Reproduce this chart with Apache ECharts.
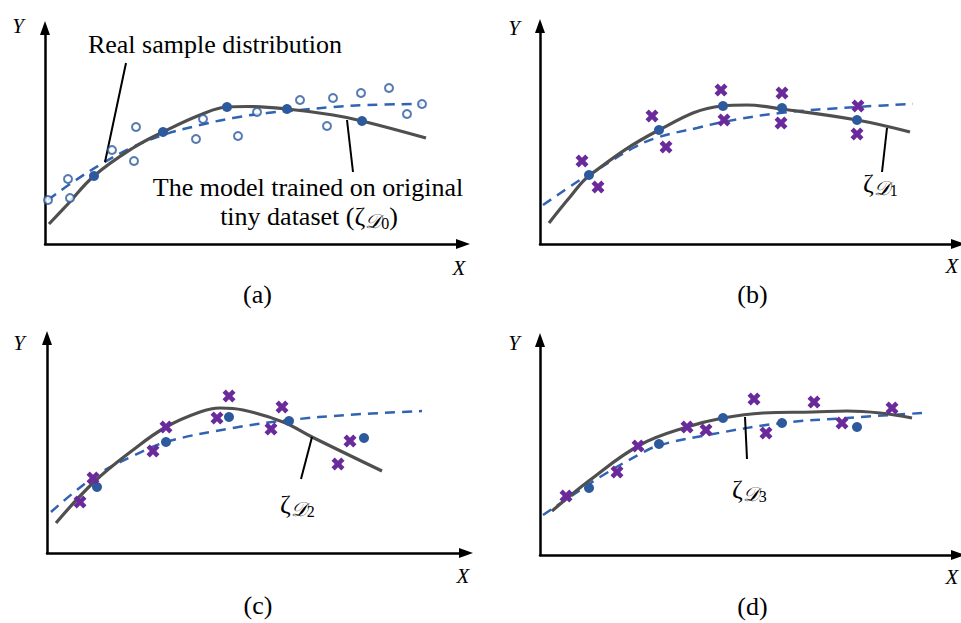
<!DOCTYPE html>
<html>
<head>
<meta charset="utf-8">
<script src="https://cdn.jsdelivr.net/npm/echarts@6/dist/echarts.min.js"></script>
<style>
html,body{margin:0;padding:0;background:#fff;}
#chart{width:961px;height:623px;}
</style>
</head>
<body>
<div id="chart"></div>
<script>
// ---------- data (x: right of origin, y: up from origin) ----------
const panelLabels = ['(a)', '(b)', '(c)', '(d)'];
const axisNameX = 'X';
const axisNameY = 'Y';

// real sample distribution (dashed)
const realA = [[3,44],[28,62],[58,81],[88,97],[118,109],[155,119],[188,126],[222,131],[255,134],[288,137],[322,139],[377,140]];
const realB = [[3,39],[40,64],[60,76],[93,96],[119,107],[157,116],[183,122],[240,131],[317,137],[373,140]];
const realC = [[4,41],[25,59],[53,80],[86,97],[119,111],[186,125],[243,133],[300,138],[375,142]];
const realD = [[3,40],[30,58],[60,78],[100,101],[120,110],[173,121],[242,132],[307,137],[382,142]];

// trained models (solid)
const modelA = [[4,20],[22,39],[49,68],[88,96],[118,112],[155,129],[182,137],[202,137.5],[242,135],[288,129],[317,123],[381,106]];
const modelB = [[9,21],[30,47],[50,69],[119,114],[182,138],[207,139],[242,135],[317,124],[370,112]];
const modelC = [[9,30],[47,71],[86,103],[119,126],[153,141],[173,145],[196,143],[236,131],[265,116],[335,82]];
const modelD = [[12,44],[50,75],[100,110],[147,128],[183,137],[223,142],[273,143],[307,144],[340,142],[372,137]];

// original tiny dataset (filled dots)
const dotsA = [[49,68],[118,112],[182,137],[242,135],[317,123]];
const dotsB = [[49,69],[119,114],[183,138],[242,136],[317,124]];
const dotsC = [[50,66],[119,111],[182,136],[242,132],[317,115]];
const dotsD = [[49,67],[119,111],[183,137],[242,132],[317,128]];

// real samples (hollow circles, panel a)
const hollowA = [[3,44],[23,65],[25,46],[67,94],[89,83],[91,117],[151,105],[158,125],[193,108],[212,132],[255,144],[282,118],[288,146],[316,151],[344,156],[362,130],[377,140]];

// augmented samples (crosses)
const crossB = [[42,83],[58,57],[112,128],[126,97],[181,154],[184,124],[242,151],[241,121],[318,138],[317,110]];
const crossC = [[33,51],[46,75],[106,102],[119,126],[170,135],[182,157],[224,124],[235,146],[291,89],[303,112]];
const crossD = [[26,59],[77,83],[98,109],[147,128],[166,125],[214,156],[226,122],[274,153],[302,132],[352,147]];

// leader lines
const leaderA1 = [[81,181],[60,82]];
const leaderA2 = [[302,124],[308,72]];
const leaderB = [[347,116],[342,72]];
const leaderC = [[265,116],[254,74]];
const leaderD = [[205,138],[207,96]];

// ---------- layout / styles ----------
const grids = [
  {left:45, top:28, width:418, height:216},
  {left:540, top:26, width:418, height:218},
  {left:47, top:338, width:419, height:215},
  {left:540, top:340, width:418, height:215}
];
const C_DASH = '#3063B2', C_DOT = '#2C5A9C', C_MODEL = '#4F4F4F', C_CROSS = '#6A2A9C';
const crossPath = 'path://M3,0 L6,3 L9,0 L12,3 L9,6 L12,9 L9,12 L6,9 L3,12 L0,9 L3,6 L0,3 Z';
const SERIF = "'Liberation Serif', 'Times New Roman', serif";

const xAxes = grids.map((g,i)=>({
  type:'value', gridIndex:i, min:0, max:g.width,
  axisLine:{show:true, lineStyle:{color:'#000', width:2.5}, symbol:['none','triangle'], symbolSize:[10,14]},
  axisTick:{show:false}, axisLabel:{show:false}, splitLine:{show:false}
}));
const yAxes = grids.map((g,i)=>({
  type:'value', gridIndex:i, min:0, max:g.height,
  axisLine:{show:true, lineStyle:{color:'#000', width:2.5}, symbol:['none','triangle'], symbolSize:[10,14]},
  axisTick:{show:false}, axisLabel:{show:false}, splitLine:{show:false}
}));

const reals = [realA, realB, realC, realD];
const models = [modelA, modelB, modelC, modelD];
const dots = [dotsA, dotsB, dotsC, dotsD];
const crosses = [null, crossB, crossC, crossD];
const leaders = [[leaderA1, leaderA2],[leaderB],[leaderC],[leaderD]];

const series = [];
for (let i=0;i<4;i++){
  series.push({type:'line', xAxisIndex:i, yAxisIndex:i, data:reals[i], smooth:0.4, symbol:'none',
    lineStyle:{color:C_DASH, width:2.5, type:[10,7]}, z:2});
  series.push({type:'line', xAxisIndex:i, yAxisIndex:i, data:models[i], smooth:0.4, symbol:'none',
    lineStyle:{color:C_MODEL, width:3.2}, z:3});
  leaders[i].forEach(l=>series.push({type:'line', xAxisIndex:i, yAxisIndex:i, data:l, symbol:'none',
    lineStyle:{color:'#000', width:2}, z:3}));
  if (i===0) series.push({type:'scatter', xAxisIndex:i, yAxisIndex:i, data:hollowA, symbol:'emptyCircle', symbolSize:8,
    itemStyle:{color:C_DOT, borderColor:C_DOT, borderWidth:2.2}, z:4});
  series.push({type:'scatter', xAxisIndex:i, yAxisIndex:i, data:dots[i], symbol:'circle', symbolSize:10,
    itemStyle:{color:C_DOT, opacity:1}, z:5});
  if (crosses[i]) series.push({type:'scatter', xAxisIndex:i, yAxisIndex:i, data:crosses[i], symbol:crossPath, symbolSize:13,
    itemStyle:{color:C_CROSS, opacity:1}, z:6});
}

function txt(text, x, y, size, opts){
  return {type:'text', x:x, y:y, z:10, style:{text:text, fill:'#000',
    fontSize:size, fontFamily:SERIF, fontStyle:(opts && opts.italic) ? 'italic' : 'normal',
    textAlign:(opts && opts.align)||'center', textVerticalAlign:'middle'}};
}
const zetaRich = {
  z:{fontSize:26, fontFamily:SERIF, lineHeight:30, verticalAlign:'middle'},
  d:{fontSize:20, fontFamily:SERIF, fontStyle:'italic', lineHeight:23, verticalAlign:'bottom'},
  n:{fontSize:16, fontFamily:SERIF, lineHeight:14, verticalAlign:'bottom'},
  t:{fontSize:26, fontFamily:SERIF, lineHeight:30, verticalAlign:'middle'}
};
function zeta(k, x, y, prefix, suffix){
  return {type:'text', x:x, y:y, z:10, style:{
    text:(prefix?'{t|'+prefix+'}':'')+'{z|ζ}{d|𝒟}{n|'+k+'}'+(suffix?'{t|'+suffix+'}':''),
    rich:zetaRich, fill:'#000', textAlign: prefix ? 'center':'left', textVerticalAlign:'middle'}};
}

const graphics = [
  txt('Real sample distribution', 215, 44, 26),
  txt('The model trained on original', 308, 187, 26),
  zeta('0', 309, 216, 'tiny dataset (', ')'),
  zeta('1', 863, 183),
  zeta('2', 280, 504),
  zeta('3', 732, 489),
  txt(panelLabels[0], 257.5, 294, 26),
  txt(panelLabels[1], 752.5, 294, 26),
  txt(panelLabels[2], 258, 605, 26),
  txt(panelLabels[3], 752.5, 606, 26),
  txt(axisNameY, 18, 25.5, 21, {italic:true}),
  txt(axisNameX, 459, 267.5, 21, {italic:true}),
  txt(axisNameY, 514, 27.5, 21, {italic:true}),
  txt(axisNameX, 952, 266, 21, {italic:true}),
  txt(axisNameY, 19, 342.5, 21, {italic:true}),
  txt(axisNameX, 463, 576, 21, {italic:true}),
  txt(axisNameY, 514, 342.5, 21, {italic:true}),
  txt(axisNameX, 952, 577, 21, {italic:true})
];

const chart = echarts.init(document.getElementById('chart'), null, {renderer:'svg'});
chart.setOption({
  animation:false,
  backgroundColor:'#fff',
  grid:grids,
  xAxis:xAxes,
  yAxis:yAxes,
  series:series,
  graphic:graphics
});
</script>
</body>
</html>
